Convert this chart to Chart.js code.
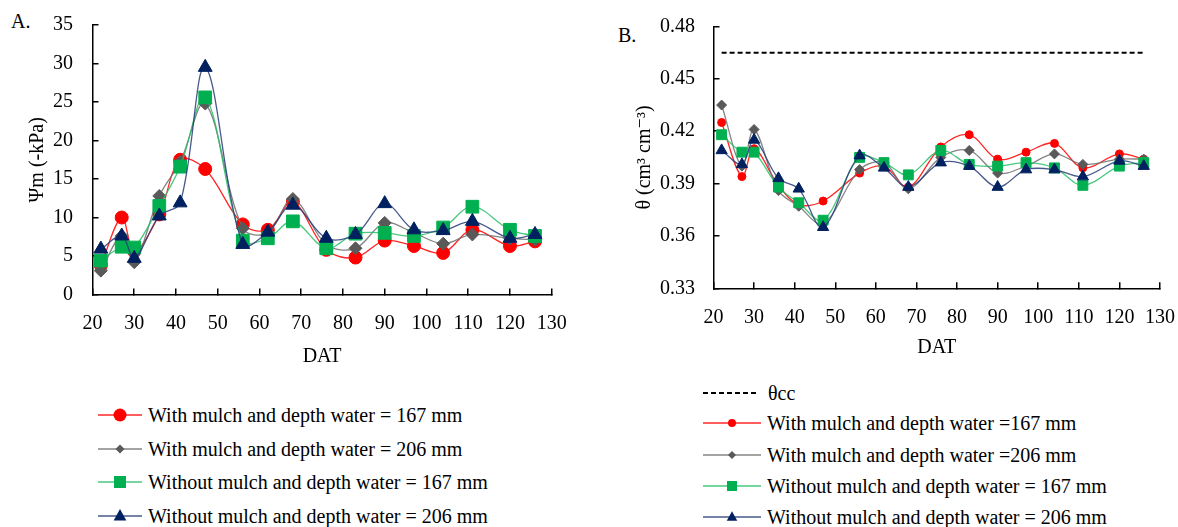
<!DOCTYPE html>
<html>
<head>
<meta charset="utf-8">
<script src="https://cdn.jsdelivr.net/npm/chart.js@4.4.0/dist/chart.umd.min.js"></script>
<style>
  html, body { margin:0; padding:0; background:#fff; }
  body { width:1178px; height:527px; position:relative; overflow:hidden; font-family:'Liberation Serif', 'Times New Roman', Tinos, 'DejaVu Serif', 'Noto Serif', serif; color:#000; }
  .abs { position:absolute; }
  .panel-label { font-size:20px; line-height:24px; }
  .leg { position:absolute; height:24px; display:flex; align-items:center; font-size:20px; line-height:24px; white-space:nowrap; }
  .leg svg { flex:none; }
</style>
</head>
<body>
<div class="abs panel-label" style="left:11px;top:9px;">A.</div>
<div class="abs panel-label" style="left:618px;top:23px;">B.</div>
<div class="abs" style="left:0;top:0;width:580px;height:370px;"><canvas id="ca" width="580" height="370"></canvas></div>
<div class="abs" style="left:590px;top:0;width:588px;height:370px;"><canvas id="cb" width="588" height="370"></canvas></div>
<div id="legA"></div>
<div id="legB"></div>
<script>
// ---------- data ----------
const dat = [22, 27, 30, 36, 41, 47, 56, 62, 68, 76, 83, 90, 97, 104, 111, 120, 126];

const seriesNames = [
  'With mulch and depth water = 167 mm',
  'With mulch and depth water = 206 mm',
  'Without mulch and depth water = 167 mm',
  'Without mulch and depth water = 206 mm'
];
const seriesNamesB = [
  'With mulch and depth water =167 mm',
  'With mulch and depth water =206 mm',
  'Without mulch and depth water = 167 mm',
  'Without mulch and depth water = 206 mm'
];
const thetaCCLabel = 'θcc';

// Panel A: soil matric potential, Ψm (-kPa)
const psiMulch167   = [3.8, 10.0, 5.6, 10.4, 17.5, 16.3, 9.1, 8.4, 12.0, 5.8, 4.8, 7.0, 6.3, 5.4, 8.4, 6.3, 6.9];
const psiMulch206   = [3.1, 7.6, 4.2, 12.8, 17.2, 24.8, 8.6, 8.0, 12.4, 6.5, 6.0, 9.3, 8.0, 6.6, 7.8, 7.3, 7.1];
const psiNoMulch167 = [4.4, 6.2, 6.1, 11.5, 16.6, 25.6, 7.0, 7.3, 9.5, 6.0, 7.9, 8.0, 7.6, 8.7, 11.4, 8.4, 7.6];
const psiNoMulch206 = [5.9, 7.6, 4.7, 10.2, 11.9, 29.5, 6.5, 8.1, 11.6, 7.3, 7.8, 11.8, 8.4, 8.3, 9.5, 7.3, 7.8];

// Panel B: volumetric water content θ (cm3 cm-3)
const thMulch167   = [0.425, 0.394, 0.410, 0.389, 0.378, 0.380, 0.396, 0.400, 0.388, 0.411, 0.418, 0.404, 0.408, 0.413, 0.399, 0.407, 0.404];
const thMulch206   = [0.435, 0.400, 0.421, 0.386, 0.377, 0.367, 0.398, 0.402, 0.387, 0.405, 0.409, 0.396, 0.400, 0.407, 0.401, 0.404, 0.404];
const thNoMulch167 = [0.418, 0.408, 0.408, 0.388, 0.379, 0.369, 0.405, 0.402, 0.395, 0.409, 0.401, 0.400, 0.402, 0.399, 0.389, 0.400, 0.402];
const thNoMulch206 = [0.409, 0.401, 0.415, 0.393, 0.387, 0.365, 0.406, 0.399, 0.388, 0.402, 0.400, 0.388, 0.398, 0.398, 0.394, 0.403, 0.400];
const thetaCC = 0.465;
const thetaCCDat = [22, 126];

// axis ranges / tick steps
const xMin = 20, xMax = 130, xStep = 10;
const yAMin = 0, yAMax = 35, yAStep = 5;
const yBMin = 0.33, yBMax = 0.48, yBStep = 0.03;

// ---------- styles ----------
const FONT = "'Liberation Serif', 'Times New Roman', Tinos, 'DejaVu Serif', 'Noto Serif', serif";
const markerFill = ['#FF0000', '#595959', '#00B050', '#002060'];
const lineCol    = ['rgba(255,0,0,0.85)', 'rgba(110,110,110,0.85)', 'rgba(40,190,105,0.85)', 'rgba(40,60,120,0.85)'];
const shapes     = ['circle', 'rectRot', 'rect', 'triangle'];
const radiusA    = [6.5, 6.5, 9, 8];
const radiusB    = [4, 5, 7, 6.5];

const pts = (ys) => dat.map((d, i) => ({x: d, y: ys[i]}));

function ds(label, ys, k, radii) {
  return {
    label, data: pts(ys),
    borderColor: lineCol[k], borderWidth: 1.3,
    backgroundColor: markerFill[k],
    pointBackgroundColor: markerFill[k], pointBorderColor: markerFill[k], pointBorderWidth: 1,
    pointStyle: shapes[k], pointRadius: radii[k], pointHoverRadius: radii[k],
    tension: 0.35, order: 4 - k, fill: false
  };
}

function axisCommon() {
  return {
    grid: { display: true, drawOnChartArea: false, drawTicks: true, tickLength: -6, color: '#000', lineWidth: 1.5 },
    border: { display: true, color: '#000', width: 1.5 }
  };
}

function makeChart(id, datasets, cfg) {
  const xa = Object.assign(axisCommon(), {
    type: 'linear', min: xMin, max: xMax,
    ticks: { stepSize: xStep, color: '#000', font: { family: FONT, size: 20 }, padding: 23, maxRotation: 0, autoSkip: false },
    title: { display: true, text: 'DAT', color: '#000', font: { family: FONT, size: 20 }, padding: { top: 0, bottom: cfg.xTitlePad } },
    afterFit: (s) => { s.height = cfg.xHeight; s.paddingLeft = 0; s.paddingRight = 0; }
  });
  const ya = Object.assign(axisCommon(), {
    type: 'linear', min: cfg.yMin, max: cfg.yMax,
    ticks: { stepSize: cfg.yStep, color: '#000', font: { family: FONT, size: 20 }, padding: cfg.yTickPad, callback: cfg.yFmt },
    title: { display: true, text: cfg.yTitle, color: '#000', font: { family: FONT, size: 20 }, padding: { top: cfg.yTitlePad, bottom: 0 } },
    afterFit: (s) => { s.width = cfg.yWidth; s.paddingTop = 0; s.paddingBottom = 0; }
  });
  return new Chart(document.getElementById(id), {
    type: 'line',
    data: { datasets },
    options: {
      responsive: false, animation: false, devicePixelRatio: 1,
      layout: { padding: { left: 0, top: cfg.top, right: cfg.right, bottom: 0 } },
      plugins: { legend: { display: false }, tooltip: { enabled: false } },
      scales: { x: xa, y: ya }
    }
  });
}

makeChart('ca', [
  ds(seriesNames[0], psiMulch167, 0, radiusA),
  ds(seriesNames[1], psiMulch206, 1, radiusA),
  ds(seriesNames[2], psiNoMulch167, 2, radiusA),
  ds(seriesNames[3], psiNoMulch206, 3, radiusA)
], { yMin: yAMin, yMax: yAMax, yStep: yAStep, yFmt: (v) => String(v), yTitle: 'Ψm (-kPa)',
     top: 25, right: 28.3, xHeight: 75.5, yWidth: 92.5, yTickPad: 25.5, yTitlePad: 26, xTitlePad: 1 });

makeChart('cb', [
  { label: thetaCCLabel, data: thetaCCDat.map(d => ({x: d, y: thetaCC})), borderColor: '#000', borderWidth: 2,
    borderDash: [5, 3], pointRadius: 0, pointHoverRadius: 0, fill: false, order: 0 },
  ds(seriesNamesB[0], thMulch167, 0, radiusB),
  ds(seriesNamesB[1], thMulch206, 1, radiusB),
  ds(seriesNamesB[2], thNoMulch167, 2, radiusB),
  ds(seriesNamesB[3], thNoMulch206, 3, radiusB)
], { yMin: yBMin, yMax: yBMax, yStep: yBStep, yFmt: (v) => v.toFixed(2), yTitle: 'θ (cm³ cm⁻³)',
     top: 26.5, right: 18, xHeight: 81.7, yWidth: 123.5, yTickPad: 24.5, yTitlePad: 43, xTitlePad: 10 });

// ---------- HTML legends ----------
function legendRow(container, left, top, lineW, text, k, r, dashed) {
  const h = 24, cx = lineW / 2, cy = h / 2;
  let mark = '';
  if (dashed) {
    mark = `<line x1="0" y1="${cy}" x2="${lineW}" y2="${cy}" stroke="#000" stroke-width="2" stroke-dasharray="5 3"/>`;
  } else {
    const f = markerFill[k];
    mark = `<line x1="0" y1="${cy}" x2="${lineW}" y2="${cy}" stroke="${lineCol[k]}" stroke-width="1.3"/>`;
    if (k === 0) mark += `<circle cx="${cx}" cy="${cy}" r="${r}" fill="${f}"/>`;
    if (k === 1) mark += `<polygon points="${cx},${cy - r} ${cx + r},${cy} ${cx},${cy + r} ${cx - r},${cy}" fill="${f}"/>`;
    if (k === 2) mark += `<rect x="${cx - r}" y="${cy - r}" width="${2 * r}" height="${2 * r}" fill="${f}"/>`;
    if (k === 3) mark += `<polygon points="${cx},${cy - r * 1.15} ${cx + r * 1.05},${cy + r * 0.75} ${cx - r * 1.05},${cy + r * 0.75}" fill="${f}"/>`;
  }
  const div = document.createElement('div');
  div.className = 'leg';
  div.style.left = left + 'px';
  div.style.top = (top - 12) + 'px';
  div.innerHTML = `<svg width="${lineW}" height="${h}" style="margin-right:${dashed ? 9 : 6}px">${mark}</svg><span>${text}</span>`;
  document.getElementById(container).appendChild(div);
}
const legARows = [415, 449, 482, 516];
const legASizes = [6.5, 4.5, 6, 6];
seriesNames.forEach((t, k) => legendRow('legA', 98, legARows[k], 44, t, k, legASizes[k], false));

const legBRows = [393, 423, 455, 486, 517];
const legBSizes = [4, 4, 5, 5];
legendRow('legB', 703, legBRows[0], 56, thetaCCLabel, 0, 0, true);
seriesNamesB.forEach((t, k) => legendRow('legB', 703, legBRows[k + 1], 58, t, k, legBSizes[k], false));
</script>
</body>
</html>
